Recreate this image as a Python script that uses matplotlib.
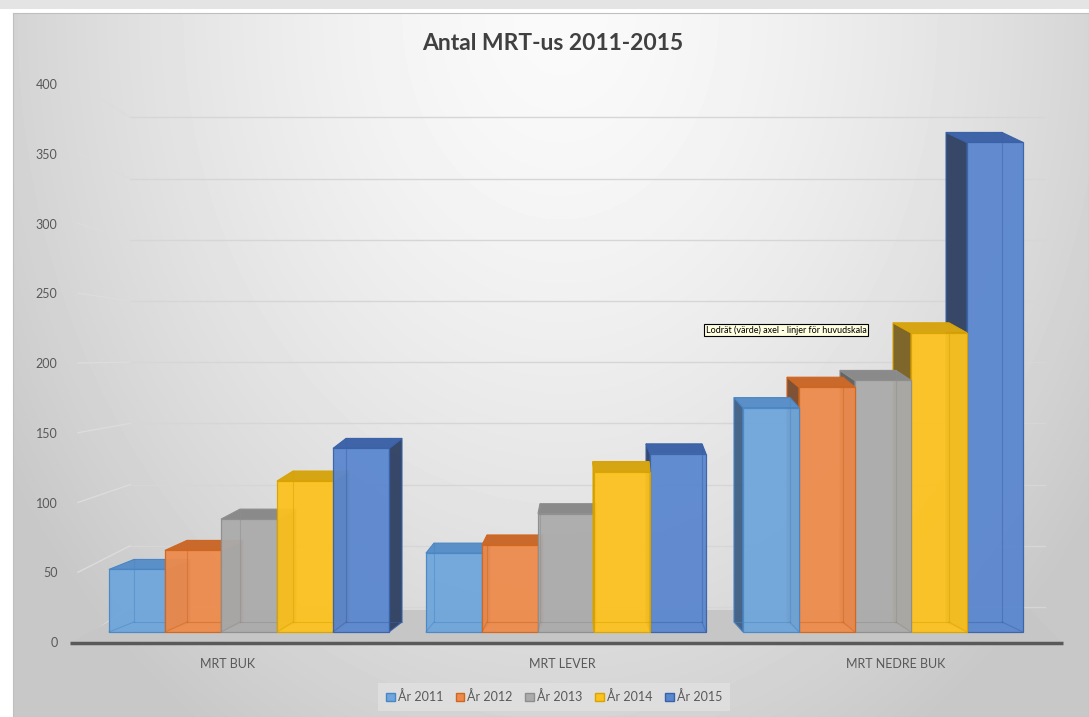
import matplotlib
matplotlib.use("Agg")
import matplotlib.pyplot as plt
from matplotlib.patches import Polygon, Patch, Rectangle
import numpy as np

plt.rcParams['font.family'] = ['Lato', 'DejaVu Sans']

# chart data
categories = ['MRT BUK', 'MRT LEVER', 'MRT NEDRE BUK']
years = ['År 2011', 'År 2012', 'År 2013', 'År 2014', 'År 2015']
ar_2011 = [46, 58, 165]
ar_2012 = [60, 64, 180]
ar_2013 = [83, 87, 185]
ar_2014 = [111, 118, 220]
ar_2015 = [135, 131, 360]
y_ticks = [0, 50, 100, 150, 200, 250, 300, 350, 400]
title = 'Antal MRT-us 2011-2015'
tooltip = 'Lodrät (värde) axel - linjer för huvudskala'

series = [ar_2011, ar_2012, ar_2013, ar_2014, ar_2015]
front_col = ['#6FA6DB', '#ED8B4C', '#ABABAB', '#FCC21F', '#5B87CF']
edge_col = ['#4A86C5', '#D0661F', '#8E8E8E', '#D9A300', '#3A62A8']
top_col = ['#5A8FC7', '#C96A2C', '#8A8A8A', '#D6A514', '#3F64A8']
side_col = ['#3E5F85', '#7A4A2B', '#5E5E5E', '#7A6020', '#2E3F62']

W, H = 1089, 717
fig = plt.figure(figsize=(W / 100, H / 100), dpi=100)
fig.patch.set_facecolor('white')

# grey strip on top of the screenshot
fig.patches.append(Rectangle((0, 1 - 9 / H), 1, 9 / H, transform=fig.transFigure,
                             facecolor='#e4e4e4', edgecolor='none'))

# chart area with soft gradient background
bg = fig.add_axes([13 / W, 0, 1 - 13 / W, 1 - 13 / H])
h, w = 704, 1076
yy, xx = np.mgrid[0:h, 0:w]
r = np.hypot((xx - 547) * 1.3, yy)
grad = 250 - 50 * np.clip(r / 850, 0, 1) ** 1.5
bg.imshow(grad, cmap='gray', vmin=0, vmax=255, aspect='auto', interpolation='bilinear')
bg.set_xticks([])
bg.set_yticks([])
for s in bg.spines.values():
    s.set_color('#bfbfbf')
    s.set_linewidth(0.8)

rect = [70 / W, 1 - 645 / H, 992 / W, 565 / H]

# axis used only for the tick labels (front plane of the 3D box)
lab = fig.add_axes(rect)
lab.patch.set_visible(False)
lab.set_xlim(-0.473, 2.497)
lab.set_ylim(-2.15, 402.9)
for s in lab.spines.values():
    s.set_visible(False)
lab.set_yticks(y_ticks)
lab.set_yticklabels([str(t) for t in y_ticks])
lab.set_xticks(range(len(categories)))
lab.set_xticklabels(categories)
lab.tick_params(axis='both', length=0, labelsize=9, labelcolor='#595959')
lab.tick_params(axis='y', pad=9)
lab.tick_params(axis='x', pad=9)

# axis for the bars
ax = fig.add_axes(rect)
ax.patch.set_visible(False)
ax.set_xlim(-0.5647, 2.5647)
ax.set_ylim(-9.56, 405.9)
ax.axis('off')

dy = 7.35        # depth of the boxes in value units
xv = 1.117       # vanishing point (x, data units)
k = 0.0536

# back wall gridlines, plus the diagonals on the left wall
for t in y_ticks:
    yb = 0.9 * t + 18.4
    ax.plot([-0.375, 2.511], [yb, yb], color='#d6d6d6', lw=1, zorder=0.5)
    ax.plot([-0.5395, -0.375], [-7.35 + 1.026 * t, yb], color='#dcdcdc', lw=1,
            zorder=0.5, clip_on=False)

# floor
ax.add_patch(Polygon([(-0.5647, -8.1), (2.567, -8.1), (2.464, 16.2), (-0.375, 16.2)],
                     closed=True, facecolor='#c6c6c6', edgecolor='none', zorder=1))
ax.plot([-0.5647, 2.567], [-8.1, -8.1], color='#595959', lw=2.5, zorder=2,
        solid_capstyle='butt', clip_on=False)

bw = 0.1767
x = np.arange(len(categories))
for i, vals in enumerate(series):
    xs = x + (i - 2) * bw
    bars = ax.bar(xs, vals, width=bw, color=front_col[i], edgecolor=edge_col[i],
                  linewidth=0.9, alpha=0.95)
    for j, b in enumerate(bars):
        v = vals[j]
        x0 = xs[j] - bw / 2
        x1 = x0 + bw
        dd = k * (xv - xs[j])
        # farthest from the vanishing point is drawn first
        z = 3 + (1 - abs(dd)) * 10
        sx = x1 if dd > 0 else x0
        ax.add_patch(Polygon([(sx, 0), (sx, v), (sx + dd, v + dy), (sx + dd, dy)],
                             facecolor=side_col[i], edgecolor=edge_col[i], lw=0.8,
                             alpha=0.95, zorder=z))
        ax.add_patch(Polygon([(x0, v), (x1, v), (x1 + dd, v + dy), (x0 + dd, v + dy)],
                             facecolor=top_col[i], edgecolor=edge_col[i], lw=0.8,
                             zorder=z))
        b.set_zorder(z + 0.01)
        # hidden back edges seen through the glassy front
        bx = x0 + dd if dd > 0 else x1 + dd
        ax.plot([x0 + dd, x1 + dd], [dy, dy], color=edge_col[i], lw=0.8, alpha=0.5,
                zorder=z + 0.02)
        ax.plot([bx, bx], [dy, v + dy], color=edge_col[i], lw=0.8, alpha=0.5,
                zorder=z + 0.02)
        cx = x0 if dd > 0 else x1
        ax.plot([cx, bx], [0, dy], color=edge_col[i], lw=0.8, alpha=0.5,
                zorder=z + 0.02)

fig.text(553 / W, 1 - 43 / H, title, ha='center', va='center', fontsize=16.5,
         fontweight='bold', color='#404040')

fig.text(786 / W, 1 - 330 / H, tooltip, ha='center', va='center', fontsize=6.5,
         color='black', bbox=dict(boxstyle='square,pad=0.15', facecolor='#ffffe1',
                                  edgecolor='black', linewidth=0.8))

handles = [Patch(facecolor=front_col[i], edgecolor=edge_col[i]) for i in range(5)]
leg = fig.legend(handles, years, loc='center', bbox_to_anchor=(554 / W, 1 - 697 / H),
                 ncol=5, fontsize=9, frameon=True, fancybox=False,
                 handlelength=0.7, handleheight=0.7, handletextpad=0.25,
                 columnspacing=1.0, borderpad=0.6)
leg.get_frame().set_facecolor('#e1e1e1')
leg.get_frame().set_edgecolor('none')
for t in leg.get_texts():
    t.set_color('#595959')

fig.savefig('out.png', dpi=100)
